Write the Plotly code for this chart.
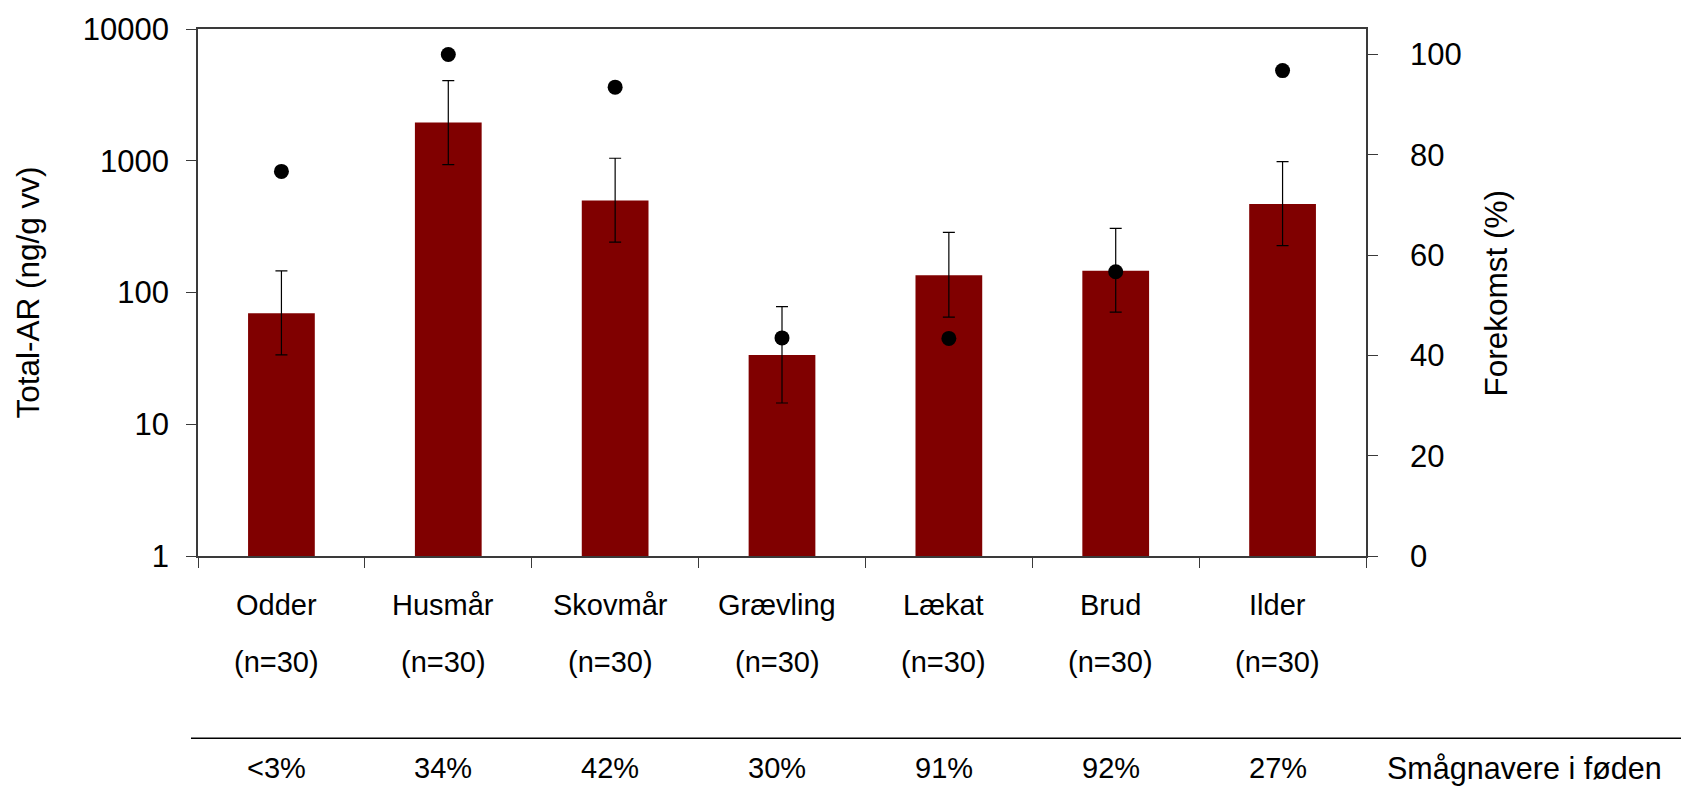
import plotly.graph_objects as go

# Species, sample sizes and measured values
species = ["Odder", "Husmår", "Skovmår", "Grævling", "Lækat", "Brud", "Ilder"]
sample_sizes = [30, 30, 30, 30, 30, 30, 30]
total_ar = [69.5, 1950, 500, 33.6, 135, 146, 469]          # ng/g vv
total_ar_upper = [146, 4050, 1045, 78, 286, 307, 986]      # upper end of error bar
total_ar_lower = [33.6, 936, 241, 14.5, 65, 71, 227]       # lower end of error bar
occurrence_pct = [76.7, 100, 93.5, 43.5, 43.4, 56.7, 96.8]  # Forekomst (%)
rodent_share = ["<3%", "34%", "42%", "30%", "91%", "92%", "27%"]

left_tick_vals = [1, 10, 100, 1000, 10000]
left_tick_text = ["1", "10", "100", "1000", "10000"]
right_tick_vals = [0, 20, 40, 60, 80, 100]

FONT = "Liberation Sans, Arial, sans-serif"
AXIS_COLOR = "#3a3a3a"

err_plus = [u - v for u, v in zip(total_ar_upper, total_ar)]
err_minus = [v - l for v, l in zip(total_ar, total_ar_lower)]

fig = go.Figure()

fig.add_trace(go.Bar(
    x=species,
    y=total_ar,
    marker=dict(color="#800000", line=dict(width=0)),
    error_y=dict(type="data", symmetric=False, array=err_plus, arrayminus=err_minus,
                 color="black", thickness=1.2, width=6),
    showlegend=False,
    yaxis="y",
))

fig.add_trace(go.Scatter(
    x=species,
    y=occurrence_pct,
    mode="markers",
    marker=dict(color="black", size=15, line=dict(width=0)),
    showlegend=False,
    yaxis="y2",
))

annotations = []
# Category names, sample sizes and diet shares below the axis
for name, n, share in zip(species, sample_sizes, rodent_share):
    for text, ypos in ((name, -0.093), (f"(n={n})", -0.2006), (share, -0.4026)):
        annotations.append(dict(
            x=name, xref="x", y=ypos, yref="paper", text=text, showarrow=False,
            xanchor="center", yanchor="middle", xshift=-5,
            font=dict(family=FONT, size=29, color="black"),
        ))

annotations.append(dict(
    x=1.016, xref="paper", y=-0.4026, yref="paper", text="Smågnavere i føden",
    showarrow=False, xanchor="left", yanchor="middle",
    font=dict(family=FONT, size=30.5, color="black"),
))

# Axis titles
annotations.append(dict(
    x=-0.1464, xref="paper", y=0.5, yref="paper", text="Total-AR (ng/g vv)",
    showarrow=False, textangle=-90, xanchor="center", yanchor="middle",
    font=dict(family=FONT, size=31.5, color="black"),
))
annotations.append(dict(
    x=1.1113, xref="paper", y=0.5, yref="paper", text="Forekomst (%)",
    showarrow=False, textangle=-90, xanchor="center", yanchor="middle",
    font=dict(family=FONT, size=31.5, color="black"),
))

fig.update_layout(
    width=1681,
    height=790,
    margin=dict(l=198, r=315, t=26, b=234),
    paper_bgcolor="white",
    plot_bgcolor="white",
    bargap=0.6,
    font=dict(family=FONT, size=30, color="black"),
    annotations=annotations,
    shapes=[dict(
        type="line", xref="paper", yref="paper",
        x0=-0.006, x1=1.27, y0=-0.346, y1=-0.346,
        line=dict(color="black", width=1.5),
    )],
    xaxis=dict(
        type="category",
        range=[-0.5, 6.5],
        tickson="boundaries",
        ticks="outside",
        ticklen=10,
        tickcolor=AXIS_COLOR,
        tickwidth=1,
        showticklabels=False,
        showline=True,
        linecolor=AXIS_COLOR,
        linewidth=1.5,
        mirror=True,
        showgrid=False,
        zeroline=False,
    ),
    yaxis=dict(
        type="log",
        range=[0, 4],
        tickvals=left_tick_vals,
        ticktext=left_tick_text,
        ticks="outside",
        ticklen=10,
        tickcolor=AXIS_COLOR,
        tickwidth=1,
        ticklabelstandoff=11,
        tickfont=dict(family=FONT, size=31, color="black"),
        showline=True,
        linecolor=AXIS_COLOR,
        linewidth=1.5,
        showgrid=False,
        zeroline=False,
    ),
    yaxis2=dict(
        overlaying="y",
        side="right",
        range=[0, 105.1],
        tickvals=right_tick_vals,
        ticks="outside",
        ticklen=10,
        tickcolor=AXIS_COLOR,
        tickwidth=1,
        ticklabelstandoff=26,
        tickfont=dict(family=FONT, size=31, color="black"),
        showline=True,
        linecolor=AXIS_COLOR,
        linewidth=1.5,
        showgrid=False,
        zeroline=False,
    ),
)

fig.write_html("out.html")
